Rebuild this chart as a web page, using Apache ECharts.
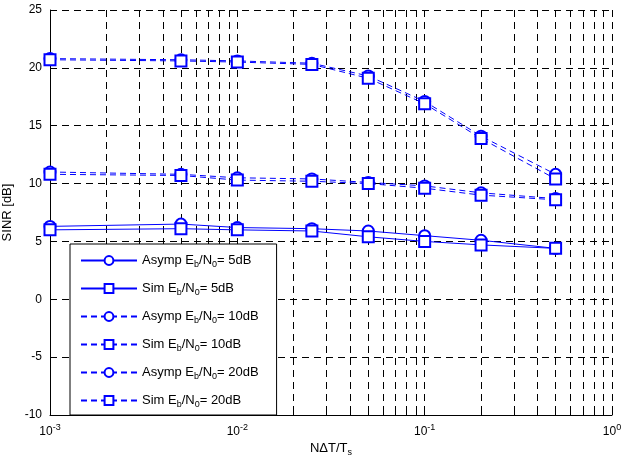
<!DOCTYPE html>
<html><head><meta charset="utf-8">
<script src="https://cdn.jsdelivr.net/npm/echarts@6/dist/echarts.min.js"></script>
<style>body{margin:0;background:#fff}#c{width:624px;height:463px}</style>
</head><body><div id="c"></div>
<script>
var xs = [0.001, 0.005, 0.01, 0.025, 0.05, 0.1, 0.2, 0.5];
var asymp5 = [6.3, 6.5, 6.2, 6.1, 5.9, 5.5, 5.1, 4.4];
var sim5 = [6.0, 6.1, 6.0, 5.9, 5.4, 5.0, 4.7, 4.4];
var asymp10 = [11.0, 10.8, 10.5, 10.4, 10.1, 9.8, 9.2, 8.7];
var sim10 = [10.8, 10.7, 10.3, 10.2, 10.0, 9.6, 9.0, 8.6];
var asymp20 = [20.8, 20.7, 20.6, 20.4, 19.3, 17.1, 14.1, 10.8];
var sim20 = [20.7, 20.6, 20.5, 20.3, 19.1, 16.9, 13.9, 10.4];
var names = ['Asymp E{s|b}/N{s|0}= 5dB', 'Sim E{s|b}/N{s|0}= 5dB', 'Asymp E{s|b}/N{s|0}= 10dB',
  'Sim E{s|b}/N{s|0}= 10dB', 'Asymp E{s|b}/N{s|0}= 20dB', 'Sim E{s|b}/N{s|0}= 20dB'];
var data = [asymp5, sim5, asymp10, sim10, asymp20, sim20];
var syms = ['circle', 'rect', 'circle', 'rect', 'circle', 'rect'];
var types = ['solid', 'solid', [6, 4], [6, 4], [6, 4], [6, 4]];

var series = data.map(function (d, i) {
  return {
    name: names[i], type: 'line', color: '#0000ff', data: d.map(function (v, j) { return [xs[j], v]; }),
    symbol: 'empty' + (syms[i] === 'circle' ? 'Circle' : 'Rect'), symbolSize: 11, showSymbol: true,
    itemStyle: { color: '#0000ff', borderColor: '#0000ff', borderWidth: 0.8 },
    lineStyle: { color: '#0000ff', width: 1, type: types[i] }
  };
});
var dashGrid = { show: true, lineStyle: { color: '#000', type: [7, 5], width: 1 } };
var chart = echarts.init(document.getElementById('c'));
chart.setOption({
  animation: false,
  textStyle: { fontFamily: 'Liberation Sans, Arial' },
  grid: { left: 50, right: 12, top: 10, bottom: 48, containLabel: false, outerBoundsMode: 'none' },
  legend: {
    orient: 'vertical', left: 70, bottom: 48, itemGap: 13, itemWidth: 56, itemHeight: 11,
    backgroundColor: '#fff', borderColor: '#000', borderWidth: 1, padding: [10, 18, 6, 10],
    textStyle: { fontSize: 13, color: '#000', rich: { s: { fontSize: 9, verticalAlign: 'bottom', padding: [8, 0, 0, 0] } } },
    data: names.map(function (n, i) { return { name: n }; })
  },
  xAxis: {
    type: 'log', min: 0.001, max: 1, logBase: 10,
    name: 'NΔT/T{s|s}', nameLocation: 'middle', nameGap: 22,
    nameTextStyle: { fontSize: 13, color: '#000', rich: { s: { fontSize: 9, padding: [8, 0, 0, 0] } } },
    axisLine: { onZero: false, lineStyle: { color: '#000' } },
    axisTick: { inside: true }, minorTick: { show: true, splitNumber: 9 },
    axisLabel: { color: '#000', fontSize: 12, formatter: function (v) {
      var e = Math.round(Math.log10(v)); return '10{e|' + e + '}'; },
      rich: { e: { fontSize: 9, verticalAlign: 'top', padding: [0, 0, 8, 0] } } },
    splitLine: dashGrid, minorSplitLine: dashGrid
  },
  yAxis: {
    type: 'value', min: -10, max: 25, interval: 5,
    name: 'SINR [dB]', nameLocation: 'middle', nameGap: 30,
    nameTextStyle: { fontSize: 13, color: '#000' },
    axisLine: { show: true, lineStyle: { color: '#000' } }, axisTick: { inside: true },
    axisLabel: { color: '#000', fontSize: 12 }, splitLine: dashGrid
  },
  series: series
});
</script></body></html>
